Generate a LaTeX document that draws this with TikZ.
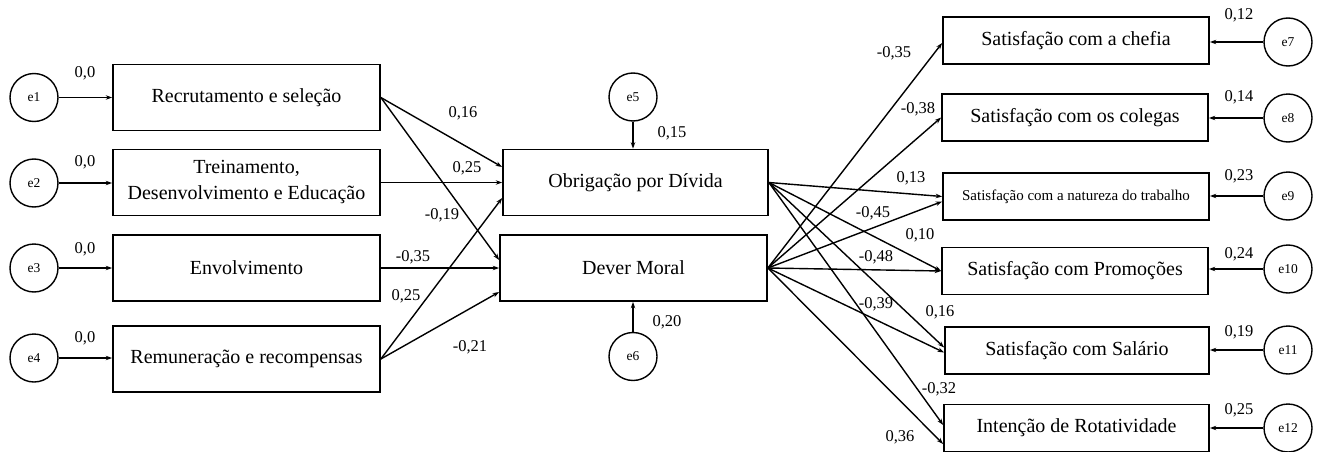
\documentclass[tikz,border=0pt]{standalone}
\usepackage{fontspec}
\setmainfont{Liberation Serif}
\usetikzlibrary{arrows.meta,calc}
\begin{document}
\begin{tikzpicture}[x=1pt,y=-1pt,
  lbox/.style={draw,line width=1.7pt,inner sep=0pt,minimum width=267pt,minimum height=66pt,
    font=\fontsize{20}{26}\selectfont,align=center},
  rbox/.style={draw,line width=1.7pt,inner sep=0pt,minimum width=266pt,minimum height=47pt,
    font=\fontsize{20}{24}\selectfont,align=center},
  errc/.style={draw,circle,line width=1.4pt,minimum size=48pt,inner sep=0pt,
    font=\fontsize{13.5}{16}\selectfont},
  coef/.style={font=\fontsize{16.5}{20}\selectfont,inner sep=0pt},
  conn/.style={line width=1.4pt,-{Stealth[length=6.5pt,width=4.5pt]}}]
\useasboundingbox (0,0) rectangle (1322,452);

% antecedents (left column)
\node[lbox] (rec) at (246.5,97.5) {Recrutamento e seleção};
\node[lbox] (tre) at (246.5,182.5) {Treinamento,\\Desenvolvimento e Educação};
\node[lbox] (env) at (246.5,268) {Envolvimento};
\node[lbox] (rem) at (246.5,359) {Remuneração e recompensas};

% mediators (centre column)
\node[lbox,minimum width=265pt] (obr) at (635.5,182.5) {Obrigação por Dívida};
\node[lbox] (dev) at (633.5,268) {Dever Moral};

% outcomes (right column)
\node[rbox] (che) at (1076,40.5) {Satisfação com a chefia};
\node[rbox] (col) at (1075,117.5) {Satisfação com os colegas};
\node[rbox,font=\fontsize{15}{18}\selectfont] (nat) at (1076,196.5) {Satisfação com a natureza do trabalho};
\node[rbox] (pro) at (1075,271) {Satisfação com Promoções};
\node[rbox,minimum width=264pt] (sal) at (1077,350.5) {Satisfação com Salário};
\node[rbox,minimum width=265pt] (rot) at (1076.5,428) {Intenção de Rotatividade};

% error terms
\node[errc] (e1) at (34,97.5) {e1};
\node[errc] (e2) at (34,183) {e2};
\node[errc] (e3) at (34,268) {e3};
\node[errc] (e4) at (34,358) {e4};
\node[errc] (e5) at (633,97) {e5};
\node[errc] (e6) at (633,356.5) {e6};
\node[errc] (e7) at (1288,42) {e7};
\node[errc] (e8) at (1288,118) {e8};
\node[errc] (e9) at (1288,196) {e9};
\node[errc] (e10) at (1288,269) {e10};
\node[errc] (e11) at (1288,350) {e11};
\node[errc] (e12) at (1288,428) {e12};

% error arrows
\draw[conn] (e1) -- (rec);
\draw[conn] (e2.east) -- (e2.east -| tre.west);
\draw[conn] (e3) -- (env);
\draw[conn] (e4.east) -- (e4.east -| rem.west);
\draw[conn] (e5.south) -- (e5.south |- obr.north);
\draw[conn] (e6.north) -- (e6.north |- dev.south);
\draw[conn] (e7.west) -- (e7.west -| che.east);
\draw[conn] (e8.west) -- (e8.west -| col.east);
\draw[conn] (e9.west) -- (e9.west -| nat.east);
\draw[conn] (e10.west) -- (e10.west -| pro.east);
\draw[conn] (e11.west) -- (e11.west -| sal.east);
\draw[conn] (e12.west) -- (e12.west -| rot.east);

% antecedents -> mediators
\draw[conn] (rec.east) -- ($(obr.west)+(0,-15.5)$);
\draw[conn] (rec.east) -- ($(dev.west)+(0,-8)$);
\draw[conn] (tre.east) -- (obr.west);
\draw[conn] (env.east) -- (dev.west);
\draw[conn] (rem.east) -- ($(obr.west)+(0,15.5)$);
\draw[conn] (rem.east) -- ($(dev.west)+(0,24)$);

% mediators -> outcomes
\draw[conn] (dev.east) -- ($(che.west)+(0,2.5)$);
\draw[conn] (dev.east) -- (col.west);
\draw[conn] (obr.east) -- (nat.west);
\draw[conn] (dev.east) -- ($(nat.west)+(0,5)$);
\draw[conn] (obr.east) -- (pro.west);
\draw[conn] (dev.east) -- (pro.west);
\draw[conn] (obr.east) -- ($(sal.west)+(0,-3)$);
\draw[conn] (dev.east) -- ($(sal.west)+(0,2)$);
\draw[conn] (obr.east) -- ($(rot.west)+(0,-3)$);
\draw[conn] (dev.east) -- ($(rot.west)+(0,16)$);

% coefficients
\node[coef] (k1) at (85,73) {0,0};
\node[coef] (k2) at (85,162) {0,0};
\node[coef] (k3) at (85,249) {0,0};
\node[coef] (k4) at (85,338) {0,0};
\node[coef] (k5) at (463,113) {0,16};
\node[coef] (k6) at (467,168) {0,25};
\node[coef] (k7) at (442,215) {-0,19};
\node[coef] (k8) at (413,257) {-0,35};
\node[coef] (k9) at (406,296) {0,25};
\node[coef] (k10) at (470,347) {-0,21};
\node[coef] (k11) at (672,133) {0,15};
\node[coef] (k12) at (667,322) {0,20};
\node[coef] (k13) at (894,53) {-0,35};
\node[coef] (k14) at (918,109) {-0,38};
\node[coef] (k15) at (911,178) {0,13};
\node[coef] (k16) at (873,213) {-0,45};
\node[coef] (k17) at (920,235) {0,10};
\node[coef] (k18) at (876,257) {-0,48};
\node[coef] (k19) at (876,304) {-0,39};
\node[coef] (k20) at (940,312) {0,16};
\node[coef] (k21) at (939,389) {-0,32};
\node[coef] (k22) at (900,437) {0,36};
\node[coef] (k23) at (1239,15) {0,12};
\node[coef] (k24) at (1239,97) {0,14};
\node[coef] (k25) at (1239,176) {0,23};
\node[coef] (k26) at (1239,254) {0,24};
\node[coef] (k27) at (1239,332) {0,19};
\node[coef] (k28) at (1239,410) {0,25};
\end{tikzpicture}
\end{document}
